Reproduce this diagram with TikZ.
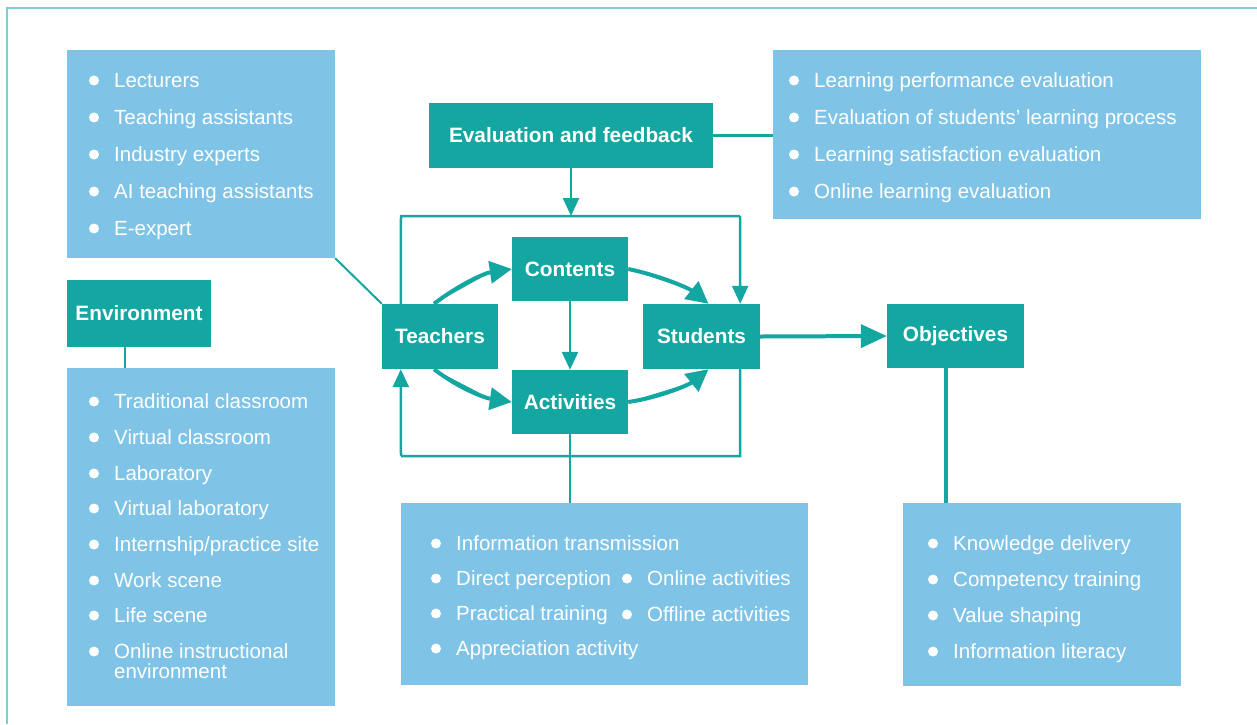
\documentclass[tikz,border=0pt]{standalone}
\usepackage{fontspec}
\setmainfont{Liberation Sans}
\usetikzlibrary{arrows.meta}
\definecolor{teal1}{HTML}{14A6A0}
\definecolor{lblue}{HTML}{7FC4E6}
\definecolor{frame}{HTML}{7FCDD3}
\tikzset{
  hbox/.style={fill=teal1, text=white, inner sep=0pt, font=\fontsize{20.8}{24}\selectfont\bfseries},
  lbox/.style={fill=lblue, inner sep=0pt},
  itm/.style={anchor=base west, text=white, inner sep=0pt, font=\fontsize{20.5}{21}\selectfont},
  bigtip/.style={-{Triangle[length=22pt,width=22pt]}},
  objtip/.style={-{Triangle[length=26pt,width=23pt]}},
  smalltip/.style={-{Triangle[length=18pt,width=16pt]}},
  conn/.style={draw=teal1, line width=2.5pt},
  thick conn/.style={draw=teal1, line width=4pt},
}
\newcommand{\li}[4]{\fill[white] (#2-20,#3-6.5) circle (5pt); \node[itm] (#1) at (#2,#3) {#4};}
\begin{document}
\begin{tikzpicture}[x=1pt,y=-1pt]
\useasboundingbox (0,0) rectangle (1257,724);
% frame
\draw[frame, line width=2pt] (1257,8) -- (7,8) -- (7,724);

% list boxes
\node[lbox, minimum width=268pt, minimum height=208pt] (tlist) at (201,154) {};
\node[lbox, minimum width=268pt, minimum height=338pt] (elist) at (201,537) {};
\node[lbox, minimum width=428pt, minimum height=169pt] (vlist) at (987,134.5) {};
\node[lbox, minimum width=407pt, minimum height=182pt] (alist) at (604.5,594) {};
\node[lbox, minimum width=278pt, minimum height=183pt] (olist) at (1042,594.5) {};

% header boxes
\node[hbox, minimum width=144pt, minimum height=67pt] (env) at (139,313.5) {Environment};
\node[hbox, minimum width=284pt, minimum height=65pt] (eval) at (571,135.5) {Evaluation and feedback};
\node[hbox, minimum width=116pt, minimum height=65pt] (teach) at (440,336.5) {Teachers};
\node[hbox, minimum width=116pt, minimum height=64pt] (cont) at (570,269) {Contents};
\node[hbox, minimum width=116pt, minimum height=64pt] (act) at (570,402) {Activities};
\node[hbox, minimum width=117pt, minimum height=65pt] (stud) at (701.5,336.5) {Students};
\node[hbox, minimum width=137pt, minimum height=64pt] (obj) at (955.5,336) {Objectives};

% list items
\li{t1}{114}{87}{Lecturers}
\li{t2}{114}{124}{Teaching assistants}
\li{t3}{114}{161}{Industry experts}
\li{t4}{114}{198}{AI teaching assistants}
\li{t5}{114}{235}{E-expert}

\li{e1}{114}{408}{Traditional classroom}
\li{e2}{114}{444}{Virtual classroom}
\li{e3}{114}{480}{Laboratory}
\li{e4}{114}{515}{Virtual laboratory}
\li{e5}{114}{551}{Internship/practice site}
\li{e6}{114}{587}{Work scene}
\li{e7}{114}{622}{Life scene}
\li{e8}{114}{658}{Online instructional}
\node[itm] (e8b) at (114,678) {environment};

\li{v1}{814}{87}{Learning performance evaluation}
\li{v2}{814}{124}{Evaluation of students’ learning process}
\li{v3}{814}{161}{Learning satisfaction evaluation}
\li{v4}{814}{198}{Online learning evaluation}

\li{a1}{456}{550}{Information transmission}
\li{a2}{456}{585}{Direct perception}
\li{a3}{456}{620}{Practical training}
\li{a4}{456}{655}{Appreciation activity}
\li{a5}{647}{585}{Online activities}
\li{a6}{647}{621}{Offline activities}

\li{o1}{953}{550}{Knowledge delivery}
\li{o2}{953}{586}{Competency training}
\li{o3}{953}{622}{Value shaping}
\li{o4}{953}{658}{Information literacy}

% loop coordinates
\coordinate (lt) at (401,216);
\coordinate (rt) at (740,216);
\coordinate (lb) at (401,456);
\coordinate (rb) at (740,456);

% connectors
\draw[draw=teal1, line width=2pt] (tlist.south east) -- (teach.north west);
\draw[conn] (env.south -| 125,0) -- (elist.north -| 125,0);
\draw[conn] (eval.east) -- (eval.east -| vlist.west);
\draw[conn, smalltip, fill=teal1] (eval.south) -- (eval.south |- lt);
\draw[conn] ([xshift=19pt]teach.north west) -- (lt) -- (rt);
\draw[conn, smalltip, fill=teal1] (rt) -- ([xshift=-20pt]stud.north east);
\draw[conn] ([xshift=-20pt]stud.south east) -- (rb) -- (lb);
\draw[conn, smalltip, fill=teal1] (lb) -- ([xshift=19pt]teach.south west);
\draw[conn, smalltip, fill=teal1] (cont.south) -- (act.north);
\draw[conn] (act.south) -- (act.south |- alist.north);
\draw[thick conn] ([xshift=-10pt]obj.south) -- ([xshift=-10pt]obj.south |- olist.north);
\draw[thick conn, objtip, fill=teal1] (stud.east) -- (obj.west);

\draw[thick conn, bigtip, fill=teal1] ([xshift=-6pt]teach.north) .. controls (460,284) and (485,273) .. (cont.west);
\draw[thick conn, bigtip, fill=teal1] (cont.east) .. controls (662,276) and (690,289) .. ([xshift=7pt]stud.north);
\draw[thick conn, bigtip, fill=teal1] ([xshift=-6pt]teach.south) .. controls (460,389) and (485,398) .. (act.west);
\draw[thick conn, bigtip, fill=teal1] (act.east) .. controls (662,397) and (690,384) .. ([xshift=7pt]stud.south);
\end{tikzpicture}
\end{document}
